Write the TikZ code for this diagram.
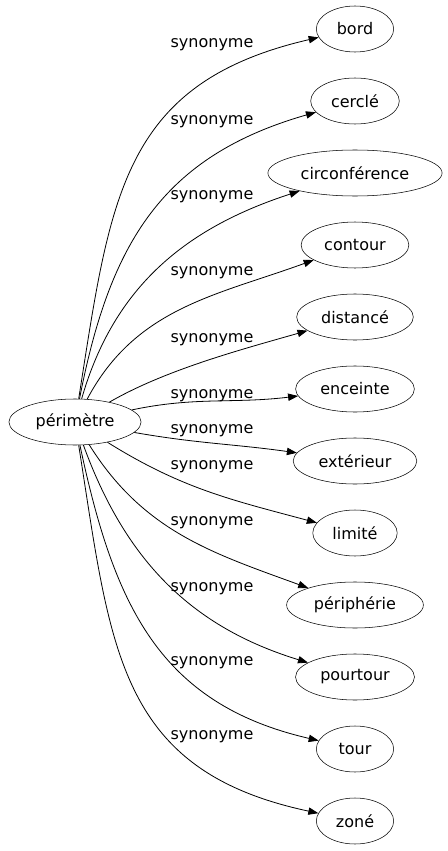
\documentclass[tikz,border=0pt]{standalone}
\usepackage{fontspec}
\setmainfont{DejaVu Sans}
\usetikzlibrary{positioning,shapes.geometric,arrows.meta}
\tikzset{
  word/.style={draw, ellipse, inner xsep=5.5pt, minimum width=58pt, minimum height=34.5pt, font=\fontsize{12}{14}\selectfont},
  lbl/.style={inner sep=0pt, font=\fontsize{12}{14}\selectfont},
  syn/.style={-{Triangle[length=7.5pt,width=5.5pt]}, line width=0.6pt},
}
\begin{document}
\begin{tikzpicture}[node distance=54pt]
    \useasboundingbox (-56.25pt,-321.75pt) rectangle (279pt,316.5pt);
    \node[word] (per) at (0,0) {périmètre};
    \node[word] (enceinte) at (210pt,24.75pt) {enceinte};
    \node[word, above of=enceinte] (distance) {distancé};
    \node[word, above of=distance] (contour) {contour};
    \node[word, above of=contour] (circ) {circonférence};
    \node[word, above of=circ] (cercle) {cerclé};
    \node[word, above of=cercle] (bord) {bord};
    \node[word, below of=enceinte] (exterieur) {extérieur};
    \node[word, below of=exterieur] (limite) {limité};
    \node[word, below of=limite] (peripherie) {périphérie};
    \node[word, below of=peripherie] (pourtour) {pourtour};
    \node[word, below of=pourtour] (tour) {tour};
    \node[word, below of=tour] (zone) {zoné};
    % labels
    \node[lbl] (lbord) at (102.75pt,282.75pt) {synonyme};
    \node[lbl] (lcercle) at (102.75pt,225pt) {synonyme};
    \node[lbl] (lcirc) at (102.75pt,168.75pt) {synonyme};
    \node[lbl] (lcontour) at (102.75pt,111.75pt) {synonyme};
    \node[lbl] (ldistance) at (102.75pt,61.5pt) {synonyme};
    \node[lbl] (lenceinte) at (102.75pt,19.5pt) {synonyme};
    \node[lbl] (lexterieur) at (102.75pt,-6.75pt) {synonyme};
    \node[lbl] (llimite) at (102.75pt,-33.75pt) {synonyme};
    \node[lbl] (lperipherie) at (102.75pt,-75.75pt) {synonyme};
    \node[lbl] (lpourtour) at (102.75pt,-125.25pt) {synonyme};
    \node[lbl] (ltour) at (102.75pt,-180.75pt) {synonyme};
    \node[lbl] (lzone) at (102.75pt,-236.25pt) {synonyme};
    % edges
    \draw[syn] (per) to[out=81,in=193,looseness=1.2] (bord);
    \draw[syn] (per) to[out=79,in=196,looseness=1.1] (cercle);
    \draw[syn] (per) to[out=74,in=198] (circ);
    \draw[syn] (per) to[out=62,in=200] (contour);
    \draw[syn] (per) to[out=30,in=196,looseness=0.8] (distance);
    \draw[syn] (per) to[out=12,in=187] (enceinte);
    \draw[syn] (per) to[out=-10,in=172] (exterieur);
    \draw[syn] (per) to[out=-32,in=165] (limite);
    \draw[syn] (per) to[out=-58,in=160] (peripherie);
    \draw[syn] (per) to[out=-70,in=163] (pourtour);
    \draw[syn] (per) to[out=-78,in=167,looseness=1.1] (tour);
    \draw[syn] (per) to[out=-81,in=168,looseness=1.2] (zone);
\end{tikzpicture}
\end{document}
